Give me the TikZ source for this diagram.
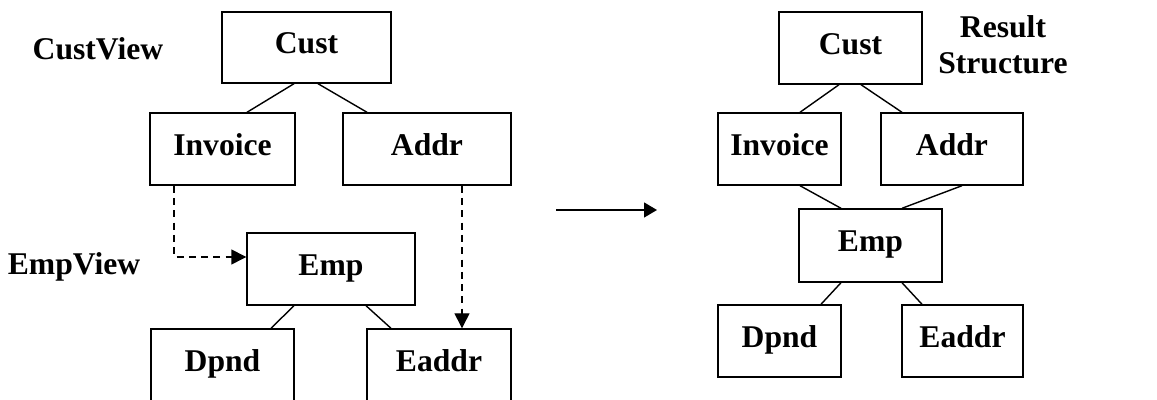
\documentclass[tikz,border=0pt]{standalone}
\usepackage{fontspec}
\setmainfont{Liberation Serif}
\usetikzlibrary{calc, positioning}
\usetikzlibrary{arrows.meta}

\tikzset{
  tbox/.style={draw, line width=0.8pt, inner sep=0pt, minimum height=1.44cm,
    text height=12pt, text depth=5pt},
  tlink/.style={line width=0.8pt},
  dlink/.style={line width=0.8pt, dash pattern=on 4pt off 3pt,
    -{Triangle[length=3mm, width=3mm]}},
}

\begin{document}
\begin{tikzpicture}[font=\bfseries\fontsize{18}{20.5}\selectfont]
\clip (0,0) rectangle (23.14,8);
\useasboundingbox (0,0) rectangle (23.14,8);

% view structures
\node[tbox, minimum width=3.38cm, minimum height=1.42cm] (cust) at (6.13,7.05) {Cust};
\node[tbox, minimum width=2.9cm] (inv) at (4.45,5.02) {Invoice};
\node[tbox, minimum width=3.36cm] (addr) at (8.54,5.02) {Addr};
\node[tbox, minimum width=3.36cm] (emp) at (6.62,2.62) {Emp};
\node[tbox, minimum width=2.86cm] (dpnd) at (4.45,0.70) {Dpnd};
\node[tbox, minimum width=2.88cm] (eaddr) at (8.78,0.70) {Eaddr};
\node[anchor=base] (custview) at (1.96,6.81) {CustView};
\node[anchor=base] (empview) at (1.48,2.50) {EmpView};

\draw[tlink] ([xshift=-0.25cm]cust.south) -- ([xshift=0.49cm]inv.north);
\draw[tlink] ([xshift=0.23cm]cust.south) -- ([xshift=-1.2cm]addr.north);
\draw[tlink] ([xshift=-0.74cm]emp.south) -- ([xshift=0.97cm]dpnd.north);
\draw[tlink] ([xshift=0.70cm]emp.south) -- ([xshift=-0.96cm]eaddr.north);

\coordinate (invout) at ([xshift=-0.97cm]inv.south);
\coordinate (empin) at ([yshift=0.24cm]emp.west);
\coordinate (addrout) at ([xshift=0.70cm]addr.south);
\draw[dlink] (invout) |- (empin);
\draw[dlink] (addrout) -- (addrout |- eaddr.north);

% transformation
\coordinate (tfrom) at (11.12,3.8);
\coordinate (tto) at (13.14,3.8);
\draw[line width=0.8pt, -{Triangle[length=2.6mm, width=3mm]}] (tfrom) -- (tto);

% result structure
\node[tbox, minimum width=2.86cm] (rcust) at (17.01,7.04) {Cust};
\node[tbox, minimum width=2.46cm] (rinv) at (15.59,5.02) {Invoice};
\node[tbox, minimum width=2.84cm] (raddr) at (19.04,5.02) {Addr};
\node[tbox, minimum width=2.86cm, minimum height=1.46cm] (remp) at (17.41,3.09) {Emp};
\node[tbox, minimum width=2.46cm] (rdpnd) at (15.59,1.18) {Dpnd};
\node[tbox, minimum width=2.42cm] (readdr) at (19.25,1.18) {Eaddr};
\node[align=center] (result) at (20.06,7.11) {Result\\Structure};

\draw[tlink] ([xshift=-0.23cm]rcust.south) -- ([xshift=0.41cm]rinv.north);
\draw[tlink] ([xshift=0.21cm]rcust.south) -- ([xshift=-1.0cm]raddr.north);
\draw[tlink] ([xshift=0.41cm]rinv.south) -- ([xshift=-0.59cm]remp.north);
\draw[tlink] ([xshift=0.2cm]raddr.south) -- ([xshift=0.63cm]remp.north);
\draw[tlink] ([xshift=-0.59cm]remp.south) -- ([xshift=0.83cm]rdpnd.north);
\draw[tlink] ([xshift=0.63cm]remp.south) -- ([xshift=-0.81cm]readdr.north);
\end{tikzpicture}
\end{document}
